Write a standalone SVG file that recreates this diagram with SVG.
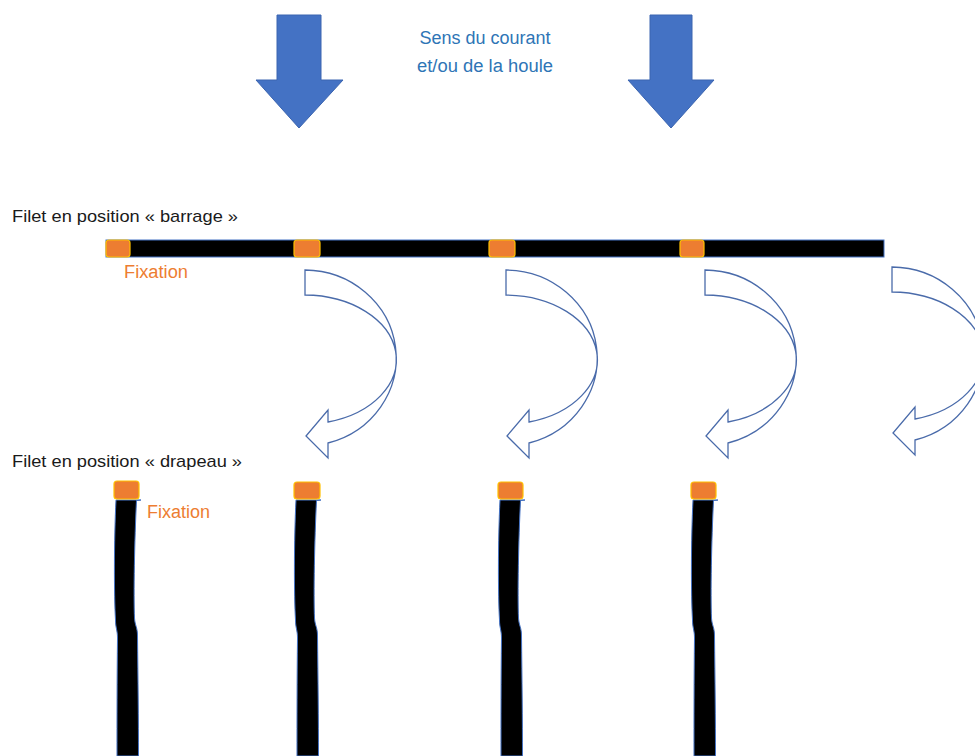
<svg xmlns="http://www.w3.org/2000/svg" width="975" height="756" viewBox="0 0 975 756">
<style>
.lbl{font-family:"Liberation Sans",Arial,sans-serif;font-size:17px;fill:#1a1a1a}
.fix{font-family:"Liberation Sans",Arial,sans-serif;font-size:18px;fill:#ED7D31}
.sens{font-family:"Liberation Sans",Arial,sans-serif;font-size:18px;fill:#2E75B6}
.down{fill:#4472C4;stroke:#3A64B0;stroke-width:1}
.fx{fill:#ED7D31;stroke:#FFC000;stroke-width:1.2}
.net{fill:#000;stroke:#4472C4;stroke-width:1}
.turn{fill:#fff;stroke:#4A6BAA;stroke-width:1.3}
</style>
<defs>
<path id="turnArrow" class="turn" d="M0,0 A92,88 0 0 1 23,173 L23,188 L1,166 L23,140 L23,152 A92.2,64.6 0 0 0 0,25 Z"/>
<path id="vline" class="net" d="M116,500 L141,500 L136.5,500.6 C134.5,540 133.5,595 134.5,618 C135,626 137.5,627 137.5,636 C138,680 138.5,720 138.5,756 L117,756 C117,720 117,680 117.5,638 C117.5,630 115.5,628 115.5,620 C114,595 114,540 116,500 Z"/>
</defs>
<g id="flow-arrows">
<polygon id="arrow-left" class="down" points="277,15 321,15 321,80 343,80 299,128 256,80 277,80"/>
<polygon id="arrow-right" class="down" points="650,15 692,15 692,80 714,80 671,128 628,80 650,80"/>
</g>
<g id="label-sens">
<text class="sens" x="485" y="44" text-anchor="middle" textLength="131" lengthAdjust="spacingAndGlyphs">Sens du courant</text>
<text class="sens" x="485" y="72" text-anchor="middle" textLength="136" lengthAdjust="spacingAndGlyphs">et/ou de la houle</text>
</g>
<g id="label-barrage">
<text class="lbl" x="12" y="222" textLength="226" lengthAdjust="spacingAndGlyphs">Filet en position « barrage »</text>
</g>
<g id="net-barrage">
<rect class="net" x="106" y="240" width="778" height="17" stroke-width="1.5"/>
<rect class="fx" x="106" y="240" width="24" height="17" rx="3"/>
<rect class="fx" x="294" y="240" width="26" height="17" rx="3"/>
<rect class="fx" x="489" y="240" width="26" height="17" rx="3"/>
<rect class="fx" x="680" y="240" width="24" height="17" rx="3"/>
<text class="fix" x="124" y="278" textLength="64" lengthAdjust="spacingAndGlyphs">Fixation</text>
</g>
<g id="connectors">
<use href="#turnArrow" x="305" y="270"/>
<use href="#turnArrow" x="506" y="270"/>
<use href="#turnArrow" x="705" y="270"/>
<use href="#turnArrow" x="892" y="267"/>
</g>
<g id="label-drapeau">
<text class="lbl" x="12" y="467" textLength="230" lengthAdjust="spacingAndGlyphs">Filet en position « drapeau »</text>
</g>
<g id="net-drapeau">
<use href="#vline"/>
<use href="#vline" x="180"/>
<use href="#vline" x="384"/>
<use href="#vline" x="577"/>
<rect class="fx" x="114" y="481" width="25" height="18" rx="3"/>
<rect class="fx" x="294" y="482" width="26" height="17" rx="3"/>
<rect class="fx" x="498" y="482" width="25" height="17" rx="3"/>
<rect class="fx" x="691" y="482" width="25" height="17" rx="3"/>
<text class="fix" x="147" y="518" textLength="63" lengthAdjust="spacingAndGlyphs">Fixation</text>
</g>
</svg>
